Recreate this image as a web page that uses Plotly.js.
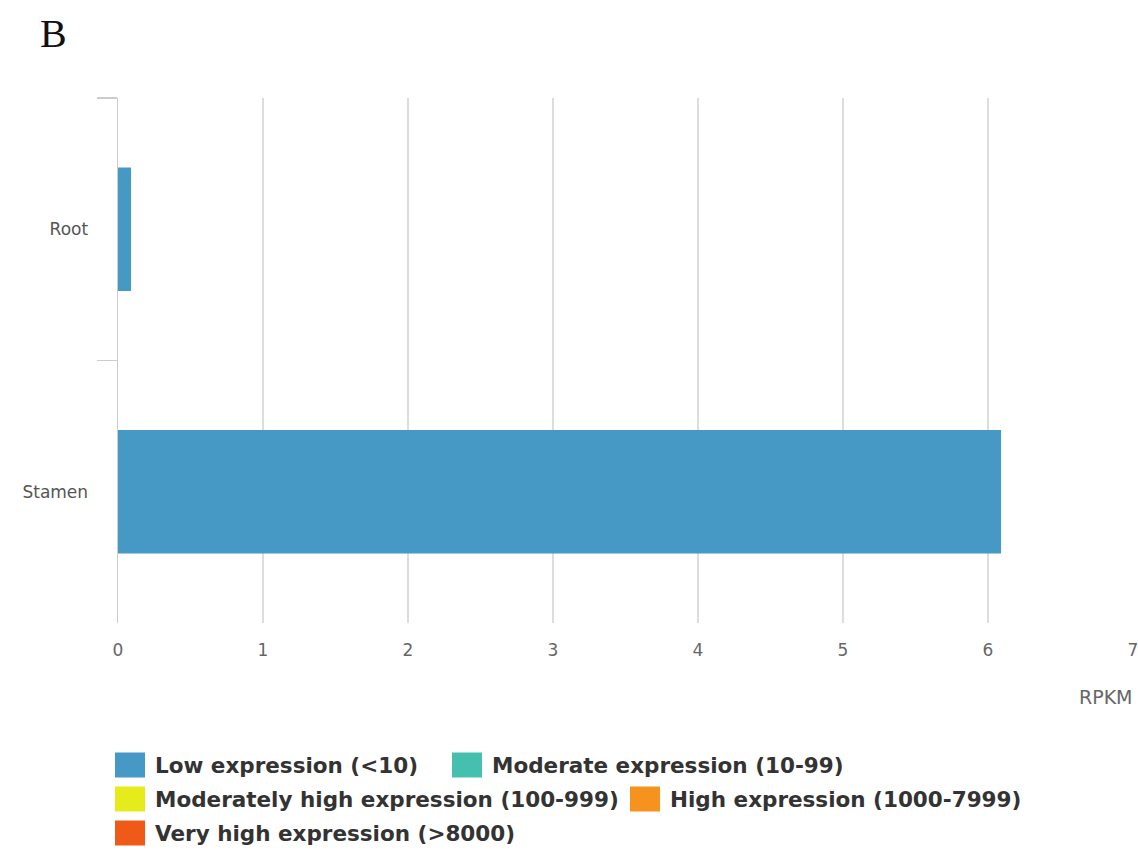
<!DOCTYPE html>
<html>
<head>
<meta charset="utf-8">
<script src="https://cdn.plot.ly/plotly-3.0.1.min.js"></script>
<style>html,body{margin:0;padding:0;background:#fff;}#chart{width:1138px;height:850px;}</style>
</head>
<body>
<div id="chart"></div>
<script>
// Data
const tissues = ["Root", "Stamen"];
const rpkm = [0.09, 6.09];
const xTicks = [0, 1, 2, 3, 4, 5, 6, 7];
const legendLabels = [
  "Low expression (<10)",
  "Moderate expression (10-99)",
  "Moderately high expression (100-999)",
  "High expression (1000-7999)",
  "Very high expression (>8000)"
];
const legendColors = ["#4799c5", "#45bfae", "#e6ec1c", "#f5931e", "#ef5a19"];

// Layout geometry (pixels)
const W = 1138, H = 850;
const M = {l: 118, r: 5, t: 98, b: 227};
const PW = W - M.l - M.r, PH = H - M.t - M.b;
const px2x = px => (px - M.l) / PW;
const py2y = py => 1 - (py - M.t) / PH;

// legend item pixel positions [squareLeft, rowCenterY]
const legendPos = [[115, 765], [452, 765], [115, 799], [630, 799], [115, 833]];

const shapes = [];
const annotations = [];
legendLabels.forEach((lab, i) => {
  const [sx, cy] = legendPos[i];
  shapes.push({
    type: "rect", xref: "paper", yref: "paper",
    x0: px2x(sx), x1: px2x(sx + 30), y0: py2y(cy + 12.5), y1: py2y(cy - 12.5),
    fillcolor: legendColors[i], line: {width: 0}
  });
  annotations.push({
    xref: "paper", yref: "paper", x: px2x(sx + 38), y: py2y(cy),
    xanchor: "left", yanchor: "middle", showarrow: false,
    text: "<b>" + lab.replace(/</g, "&lt;").replace(/>/g, "&gt;") + "</b>",
    font: {family: "DejaVu Sans", size: 21.5, color: "#333"}
  });
});
annotations.push({
  xref: "paper", yref: "paper", x: px2x(1135), y: py2y(697),
  xanchor: "right", yanchor: "middle", showarrow: false,
  text: "RPKM", font: {family: "DejaVu Sans", size: 19, color: "#666"}
});
annotations.push({
  xref: "paper", yref: "paper", x: px2x(38), y: py2y(33),
  xanchor: "left", yanchor: "middle", showarrow: false,
  text: "B", font: {family: "Liberation Serif", size: 40, color: "#111"}
});

const trace = {
  type: "bar", orientation: "h",
  y: tissues, x: rpkm,
  marker: {color: legendColors[0], line: {width: 0}},
  width: 0.47, showlegend: false, hoverinfo: "x+y"
};

const layout = {
  width: W, height: H,
  margin: M,
  paper_bgcolor: "#fff", plot_bgcolor: "#fff",
  showlegend: false,
  xaxis: {
    range: [0, 7], tickvals: xTicks, ticktext: xTicks.map(String),
    showgrid: true, gridcolor: "#dddddd", gridwidth: 1.5,
    zeroline: false, showline: false, ticks: "",
    tickfont: {family: "DejaVu Sans", size: 17, color: "#666"},
    ticklabelstandoff: 15, ticklabeloverflow: "allow", fixedrange: true
  },
  yaxis: {
    type: "category", categoryorder: "array", categoryarray: tissues,
    autorange: false, range: [1.5, -0.5],
    showgrid: false, zeroline: false,
    showline: true, linecolor: "#cccccc", linewidth: 1.5,
    ticks: "outside", tickson: "boundaries", ticklen: 20, tickcolor: "#cccccc", tickwidth: 1.5,
    tickfont: {family: "DejaVu Sans", size: 17, color: "#555"},
    ticklabelstandoff: 25, fixedrange: true
  },
  shapes: shapes,
  annotations: annotations
};

Plotly.newPlot("chart", [trace], layout, {staticPlot: true, displayModeBar: false});
</script>
</body>
</html>
